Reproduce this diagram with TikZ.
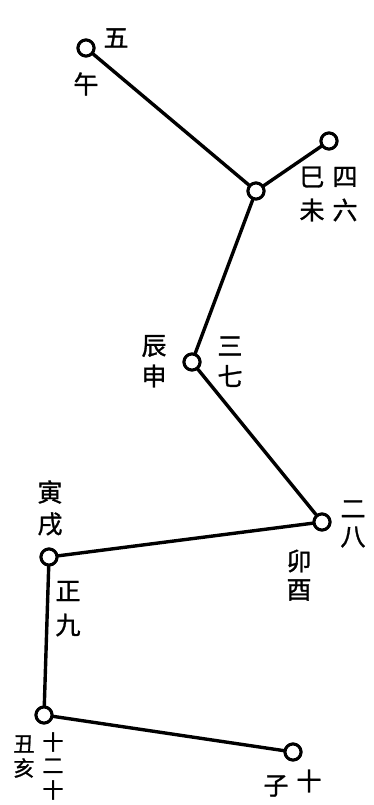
\documentclass[tikz,border=0pt]{standalone}
\usepackage{fontspec}
\newfontfamily\cjk[AutoFakeBold=1.2]{Noto Sans CJK SC}
\usetikzlibrary{positioning}
\definecolor{ink}{HTML}{000000}
\tikzset{
  station/.style={
    circle,
    draw=ink,
    fill=white,
    line width=3pt,
    minimum size=16pt,
    inner sep=0pt
  },
  glyph/.style={
    inner sep=0pt,
    text=ink,
    font=\cjk\bfseries\fontsize{25}{25}\selectfont
  },
  tight/.style={
    glyph,
    font=\cjk\bfseries\fontsize{21}{21}\selectfont
  },
  link/.style={
    line width=3.4pt,
    draw=ink,
    line cap=round
  }
}
\begin{document}
\begin{tikzpicture}[x=1pt,y=-1pt]
  \useasboundingbox (0,0) rectangle (373,805);

  % stations along the path
  \node[station] (wu)   at (86,48)   {};
  \node[station] (si)   at (256,191) {};
  \node[station] (top)  at (329,141) {};
  \node[station] (chen) at (192,362) {};
  \node[station] (mao)  at (322,522) {};
  \node[station] (yin)  at (49,557)  {};
  \node[station] (chou) at (44,715)  {};
  \node[station] (zi)   at (293,752) {};

  \draw[link] (wu) -- (si);
  \draw[link] (top) -- (si);
  \draw[link] (si) -- (chen);
  \draw[link] (chen) -- (mao);
  \draw[link] (mao) -- (yin);
  \draw[link] (yin) -- (chou);
  \draw[link] (chou) -- (zi);

  % redraw stations over the links
  \foreach \s in {wu,si,top,chen,mao,yin,chou,zi}
    \node[station] at (\s) {};

  % labels
  \node[glyph] (wuNum)   at (116,38)  {五};
  \node[glyph] (wuName)  at (86,84)   {午};

  \node[glyph] (siName)  at (312,177) {巳};
  \node[glyph] (weiName) at (312,210) {未};
  \node[glyph] (siNum)   at (345,177) {四};
  \node[glyph] (weiNum)  at (345,210) {六};

  \node[glyph] (chenName) at (154,346) {辰};
  \node[glyph] (shenName) at (154,376) {申};
  \node[glyph] (chenNum)  at (230,346) {三};
  \node[glyph] (shenNum)  at (230,376) {七};

  \node[glyph] (maoNum)  at (353,509) {二};
  \node[glyph] (youNum)  at (353,537) {八};
  \node[glyph] (maoName) at (299,561) {卯};
  \node[glyph] (youName) at (299,590) {酉};

  \node[glyph] (yinName) at (50,492)  {寅};
  \node[glyph] (xuName)  at (50,524)  {戌};
  \node[glyph] (yinNum)  at (68,591)  {正};
  \node[glyph] (xuNum)   at (68,625)  {九};

  \node[tight] (chouName) at (24,744) {丑};
  \node[tight] (haiName)  at (24,768) {亥};
  \node[tight] (chouNumA) at (53,742) {十};
  \node[tight] (chouNumB) at (53,766) {二};
  \node[tight] (haiNum)   at (53,790) {十};

  \node[glyph] (ziName) at (276,786) {子};
  \node[glyph] (ziNum)  at (309,781) {十};
\end{tikzpicture}
\end{document}
